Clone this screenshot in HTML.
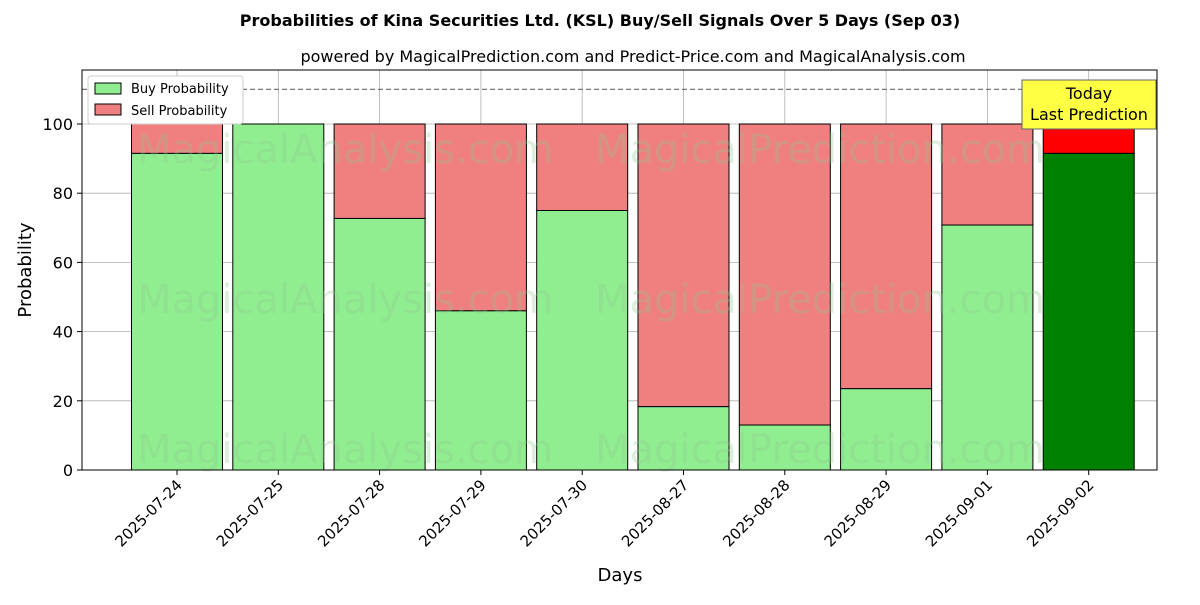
<!DOCTYPE html>
<html><head><meta charset="utf-8"><style>
body{margin:0;background:#fff;font-family:"Liberation Sans","DejaVu Sans",sans-serif}
</style></head><body>
<svg id="c" width="1200" height="600" xmlns="http://www.w3.org/2000/svg" font-family="DejaVu Sans, Liberation Sans, sans-serif">
<text x="600" y="26" text-anchor="middle" font-size="16" font-weight="bold">Probabilities of Kina Securities Ltd. (KSL) Buy/Sell Signals Over 5 Days (Sep 03)</text>
<text x="633" y="62" text-anchor="middle" font-size="16">powered by MagicalPrediction.com and Predict-Price.com and MagicalAnalysis.com</text>
<g id="grid"></g>
<g id="bars"></g>
<g id="wm" fill="#90c890" opacity="0.3" font-size="40">
<text x="345" y="163" text-anchor="middle">MagicalAnalysis.com</text>
<text x="820" y="163" text-anchor="middle">MagicalPrediction.com</text>
<text x="345" y="313" text-anchor="middle">MagicalAnalysis.com</text>
<text x="820" y="313" text-anchor="middle">MagicalPrediction.com</text>
<text x="345" y="463" text-anchor="middle">MagicalAnalysis.com</text>
<text x="820" y="463" text-anchor="middle">MagicalPrediction.com</text>
</g>
<g id="axes"></g>
<text x="620" y="581" text-anchor="middle" font-size="18">Days</text>
<text transform="translate(31,270) rotate(-90)" text-anchor="middle" font-size="18">Probability</text>
<g>
<rect x="88" y="76" width="155" height="48" fill="#fff" stroke="#ccc" rx="3"/>
<rect x="95" y="83" width="26" height="11" fill="#90ee90" stroke="#000"/>
<text x="131" y="93" font-size="13">Buy Probability</text>
<rect x="95" y="104" width="26" height="11" fill="#f08080" stroke="#000"/>
<text x="131" y="115" font-size="13">Sell Probability</text>
</g>
<g>
<rect x="1022" y="80" width="134" height="49" fill="#ffff44" stroke="#666"/>
<text x="1089" y="99" text-anchor="middle" font-size="16">Today</text>
<text x="1089" y="120" text-anchor="middle" font-size="16">Last Prediction</text>
</g>
</svg>
<script>
const categories=["2025-07-24","2025-07-25","2025-07-28","2025-07-29","2025-07-30","2025-08-27","2025-08-28","2025-08-29","2025-09-01","2025-09-02"];
const buyValues=[91.5,100,72.7,46,75,18.3,13,23.5,70.8,91.5];
const yTicks=[0,20,40,60,80,100];
const NS="http://www.w3.org/2000/svg";
const L=82,R=1157,T=70,B=470;
const y=v=>B-v*3.46;
const x=i=>177+i*101.3;
const bw=91;
function mk(tag,attrs,parent){const e=document.createElementNS(NS,tag);for(const k in attrs)e.setAttribute(k,attrs[k]);document.getElementById(parent).appendChild(e);return e;}
yTicks.forEach(t=>{
 const g=mk("line",{x1:L,x2:R,y1:y(t),y2:y(t),stroke:"#b0b0b0","stroke-width":0.8},"grid");
 
 
 const tk=mk("line",{x1:L-5,x2:L,y1:y(t),y2:y(t),stroke:"#000"},"axes");
 
 
 const tl=mk("text",{x:L-9,y:y(t)+6,"text-anchor":"end","font-size":16},"axes");
 tl.textContent=t;
 
 
});
categories.forEach((c,i)=>{
 const g=mk("line",{x1:x(i),x2:x(i),y1:T,y2:B,stroke:"#b0b0b0","stroke-width":0.8},"grid");
 
 
 const last=i===categories.length-1;
 const b=buyValues[i];
 const s=mk("rect",{x:x(i)-bw/2,y:y(100),width:bw,height:y(b)-y(100),fill:last?"#ff0000":"#f08080",stroke:"#000","stroke-width":1},"bars");
 
 
 const r=mk("rect",{x:x(i)-bw/2,y:y(b),width:bw,height:B-y(b),fill:last?"#008000":"#90ee90",stroke:"#000","stroke-width":1},"bars");
 
 
 const tk=mk("line",{x1:x(i),x2:x(i),y1:B,y2:B+5,stroke:"#000"},"axes");
 
 
 const tl=mk("text",{x:0,y:0,"text-anchor":"end","font-size":15,transform:`translate(${x(i)+6},${B+16}) rotate(-45)`},"axes");
 tl.textContent=c;
 
 
});
const d=mk("line",{x1:L,x2:R,y1:y(110),y2:y(110),stroke:"#777","stroke-dasharray":"5,3","stroke-width":1.2},"grid");


const f=mk("rect",{x:L,y:T,width:R-L,height:B-T,fill:"none",stroke:"#000","stroke-width":1},"axes");


</script>
</body></html>
